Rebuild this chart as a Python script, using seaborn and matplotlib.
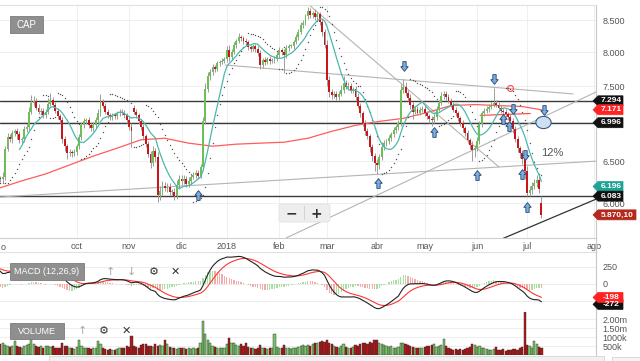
import numpy as np
import pandas as pd
import matplotlib
matplotlib.use("Agg")
import matplotlib.pyplot as plt
import seaborn as sns
from matplotlib.path import Path
from matplotlib.patches import Polygon, Rectangle, FancyBboxPatch
from matplotlib.lines import Line2D
from matplotlib.ticker import FixedLocator, NullLocator, FixedFormatter

# ---------------- data ----------------
start_date = "2017-08-16"
end_date = "2018-07-10"
market_holidays = ["2017-12-25", "2017-12-26", "2018-01-01",
                   "2018-03-30", "2018-04-02", "2018-05-01"]

closes = [
    6293, 6287, 6310, 6653, 6805, 6779, 6856, 6882, 6843, 6766,
    6779, 6908, 6935, 7147, 7270, 7297, 7201, 7147, 7160, 7093,
    7147, 7256, 7311, 7242, 7160, 7080, 7027, 6779, 6690, 6603,
    6615, 6603, 6615, 6690, 6805, 6961, 7014, 7027, 6961, 6921,
    6961, 7027, 7120, 7283, 7228, 7147, 7093, 7067, 7093, 7080,
    7120, 7147, 7133, 7093, 7027, 6935, 6880, 7147, 7093, 7014,
    6935, 6818, 6716, 6590, 6479, 6628, 6553, 6100, 6146, 6204,
    6181, 6193, 6134, 6134, 6088, 6216, 6287, 6263, 6287, 6228,
    6263, 6310, 6334, 6358, 6322, 6430, 7014, 7464, 7642, 7708,
    7776, 7750, 7834, 7860, 7872, 7900, 8035, 7930, 8005, 8110,
    8170, 8235, 8220, 8170, 8155, 8080, 8050, 8095, 8050, 7990,
    7810, 7884, 7855, 7900, 7870, 7884, 7900, 7959, 8035, 8005,
    7959, 8065, 8095, 8095, 8155, 8235, 8315, 8420, 8455, 8570,
    8650, 8585, 8620, 8555, 8600, 8470, 8310, 8110, 7592, 7420,
    7380, 7395, 7350, 7395, 7450, 7550, 7493, 7507, 7437, 7465,
    7350, 7228, 7120, 6987, 6882, 6818, 6678, 6565, 6479, 6455,
    6553, 6678, 6729, 6754, 6792, 6843, 6895, 6935, 6987, 7450,
    7493, 7408, 7338, 7242, 7147, 7187, 7133, 7174, 7187, 7120,
    7080, 7040, 7027, 7067, 7187, 7270, 7365, 7395, 7350, 7297,
    7242, 7174, 7120, 7054, 6987, 6921, 6856, 6766, 6703, 6640,
    6665, 6754, 6974, 7120, 7160, 7187, 7215, 7242, 7270, 7242,
    7201, 7160, 7147, 7107, 7067, 7014, 6908, 6779, 6665, 6603,
    6528, 6382, 6122, 6157, 6204, 6240, 6275, 6169, 5870,
]
first_open = 6330
open_gaps = {57: 7200, 228: 6000}

hi_wick = [
    40, 30, 60, 40, 50, 40, 40, 30, 50, 40,
    30, 40, 40, 60, 110, 60, 40, 50, 30, 40,
    40, 80, 90, 40, 30, 40, 30, 50, 40, 30,
    40, 30, 40, 30, 40, 50, 40, 30, 40, 30,
    40, 50, 60, 110, 40, 30, 40, 30, 40, 30,
    40, 40, 30, 40, 30, 40, 60, 40, 30, 40,
    30, 40, 30, 40, 40, 60, 40, 60, 50, 60,
    40, 50, 40, 30, 40, 60, 50, 40, 40, 30,
    40, 30, 40, 30, 40, 40, 60, 80, 60, 40,
    50, 40, 40, 30, 40, 30, 60, 80, 40, 50,
    40, 60, 40, 30, 50, 40, 30, 40, 30, 40,
    50, 30, 40, 30, 40, 30, 40, 50, 40, 30,
    40, 40, 30, 40, 30, 50, 40, 50, 60, 40,
    70, 50, 40, 60, 40, 40, 50, 60, 80, 60,
    40, 30, 40, 30, 60, 90, 40, 50, 40, 30,
    40, 50, 40, 30, 40, 50, 30, 40, 40, 50,
    40, 60, 40, 30, 40, 30, 40, 30, 40, 80,
    110, 60, 40, 50, 40, 30, 40, 40, 30, 40,
    40, 30, 40, 50, 40, 40, 50, 40, 30, 40,
    30, 40, 30, 40, 30, 40, 30, 40, 30, 50,
    40, 60, 40, 30, 40, 40, 30, 40, 210, 40,
    30, 40, 30, 40, 30, 40, 50, 40, 40, 30,
    40, 60, 60, 40, 50, 40, 60, 40, 80,
]
lo_wick = [
    60, 40, 50, 40, 30, 40, 50, 40, 60, 40,
    40, 30, 40, 30, 40, 50, 30, 40, 40, 30,
    40, 30, 40, 40, 40, 30, 40, 50, 60, 70,
    40, 50, 40, 30, 40, 30, 40, 30, 40, 40,
    30, 40, 30, 40, 40, 30, 40, 30, 40, 30,
    40, 30, 40, 30, 40, 40, 200, 40, 30, 40,
    40, 50, 40, 40, 60, 40, 60, 80, 60, 50,
    40, 50, 40, 40, 50, 40, 40, 50, 40, 40,
    40, 40, 30, 40, 40, 30, 40, 40, 40, 50,
    40, 50, 30, 40, 30, 40, 40, 60, 40, 30,
    40, 30, 40, 40, 30, 40, 40, 30, 40, 40,
    60, 40, 40, 30, 40, 30, 40, 30, 40, 50,
    270, 40, 40, 30, 40, 30, 40, 30, 40, 30,
    40, 50, 40, 40, 60, 50, 60, 50, 90, 70,
    60, 50, 40, 50, 40, 40, 40, 50, 40, 40,
    40, 40, 50, 40, 50, 40, 60, 60, 100, 110,
    50, 40, 40, 40, 30, 40, 30, 40, 40, 40,
    40, 40, 50, 60, 100, 40, 40, 30, 40, 40,
    40, 50, 70, 40, 40, 30, 40, 40, 40, 30,
    40, 30, 40, 40, 40, 50, 40, 40, 50, 130,
    80, 40, 40, 30, 40, 30, 40, 30, 40, 30,
    40, 30, 40, 40, 30, 40, 50, 40, 50, 60,
    60, 100, 40, 40, 50, 40, 50, 50, 30,
]
volume_k = [
    650, 600, 700, 550, 500, 450, 480, 760, 500, 450,
    420, 480, 550, 600, 870, 620, 500, 450, 480, 420,
    500, 520, 450, 480, 400, 420, 380, 690, 520, 480,
    420, 380, 360, 450, 820, 500, 400, 420, 380, 360,
    400, 420, 760, 600, 420, 350, 300, 320, 280, 300,
    350, 400, 380, 420, 500, 450, 1050, 500, 450, 420,
    550, 620, 600, 500, 520, 450, 600, 500, 550, 500,
    820, 600, 450, 400, 380, 350, 420, 380, 400, 350,
    380, 330, 400, 350, 420, 700, 1900, 1150, 850, 650,
    500, 450, 420, 400, 380, 420, 600, 950, 700, 650,
    550, 500, 620, 480, 700, 450, 380, 400, 350, 380,
    550, 420, 400, 350, 380, 420, 1150, 450, 400, 380,
    550, 380, 400, 350, 420, 380, 450, 500, 550, 480,
    550, 500, 600, 700, 650, 750, 800, 720, 850, 700,
    600, 500, 450, 420, 480, 600, 450, 400, 420, 450,
    550, 480, 600, 650, 700, 600, 740, 650, 820, 850,
    700, 600, 550, 500, 450, 480, 420, 400, 450, 650,
    700, 600, 550, 500, 450, 420, 400, 380, 420, 450,
    500, 480, 550, 600, 450, 500, 550, 900, 500, 380,
    350, 300, 330, 280, 350, 300, 320, 400, 450, 640,
    550, 450, 500, 420, 380, 330, 300, 280, 350, 450,
    300, 280, 320, 250, 300, 280, 320, 350, 300, 420,
    450, 2600, 550, 480, 420, 760, 620, 450, 400,
]

# long moving average (red), read every 10 sessions
red_ma_idx = [0, 10, 20, 30, 40, 50, 60, 70, 80, 90, 100, 110, 120,
              130, 140, 150, 160, 170, 180, 190, 200, 210, 220, 228]
red_ma_val = [6172, 6263, 6346, 6455, 6565, 6665, 6773, 6792, 6729, 6690,
              6716, 6729, 6741, 6792, 6882, 6961, 7014, 7054, 7133, 7228,
              7242, 7228, 7215, 7171]
short_ma_window = 10
macd_seed = {"ema12": 6600, "ema26": 6335, "signal": 235}

month_labels = ["oct", "nov", "dic", "2018", "feb", "mar", "abr", "may", "jun", "jul", "ago"]
month_starts = ["2017-10-01", "2017-11-01", "2017-12-01", "2018-01-01", "2018-02-01",
                "2018-03-01", "2018-04-01", "2018-05-01", "2018-06-01", "2018-07-01",
                "2018-08-01"]
left_partial_label = "o"

price_ticks = [6000, 6500, 7000, 7500, 8000, 8500]
price_tick_labels = ["6.000", "6.500", "", "7.500", "8.000", "8.500"]
macd_ticks = [250, 0]
macd_grid = [250, 0, -250]
vol_ticks = [500000, 1000000, 1500000, 2000000]
vol_tick_labels = ["500k", "1000k", "1.50m", "2.00m"]

h_levels = [7294, 6996, 6083]
trend_gray = [((0.84, 6073), (251.8, 6504)),
              ((95.3, 7809), (241.3, 7390)),
              ((131.0, 8738), (210.2, 6430)),
              ((120.9, 5617), (251.8, 7431))]
trend_black = [((211.5, 5608), (251.4, 6054))]
trend_red = [((202.3, 7094), (223.3, 7120))]
arrows_down = [(170.4, 7794), (208.1, 7603), (216.1, 7181), (221.2, 6578), (229.1, 7167)]
arrows_up = [(83.9, 6096), (159.5, 6237), (183.0, 6874), (201.0, 6333),
             (211.9, 7046), (214.4, 6952), (219.9, 6345), (222.0, 5958)]
circle_mark = (214.9, 7478)
ellipse_mark = (228.7, 7006)
pct_label = (232.5, 6610, "12%")

price_flags = [(7294, "7.294", "#111111"), (7171, "7.171", "#ff2424"),
               (6996, "6.996", "#111111"), (6196, "6.196", "#1fa396"),
               (6083, "6.083", "#111111"), (5870.10, "5.870,10", "#b5291d")]
macd_flags = [(-300, "-272", "#111111"), (-198, "-198", "#ff2020")]

# ---------------- style ----------------
sns.set_style("white")
plt.rcParams["font.family"] = ["Liberation Sans", "DejaVu Sans"]

W, H = 640, 361
fig = plt.figure(figsize=(6.4, 3.61), dpi=100, facecolor="white")

def fx(px):
    return px / W

def fy(py):
    return 1 - py / H

AXR = 596
ax1 = fig.add_axes([0, fy(238), fx(AXR), (238 - 5) / H])
ax2 = fig.add_axes([0, fy(312), fx(AXR), (312 - 252) / H], sharex=ax1)
ax3 = fig.add_axes([0, fy(355), fx(AXR), (355 - 312) / H], sharex=ax1)

# ---------------- derived series ----------------
dates = pd.bdate_range(start_date, end_date)
dates = dates[~dates.isin(pd.to_datetime(market_holidays))]
n = len(closes)
idx = np.arange(n)
c = np.array(closes, float)
o = np.r_[first_open, c[:-1]]
for k, v in open_gaps.items():
    o[k] = v
hi = np.maximum(o, c) + np.array(hi_wick)
lo = np.minimum(o, c) - np.array(lo_wick)
up = c >= o

short_ma = pd.Series(c).rolling(short_ma_window).mean().to_numpy()

def ema(values, span, seed):
    s = pd.Series([seed] + list(values))
    return s.ewm(span=span, adjust=False).mean().to_numpy()[1:]

macd = ema(c, 12, macd_seed["ema12"]) - ema(c, 26, macd_seed["ema26"])
signal = ema(macd, 9, macd_seed["signal"])
hist = macd - signal

def psar(high, low, step=0.02, amax=0.2):
    out = np.zeros(len(high))
    bull = True
    af = step
    ep = high[0]
    out[0] = low[0]
    for i in range(1, len(high)):
        prev = out[i - 1]
        s = prev + af * (ep - prev)
        if bull:
            s = min(s, low[i - 1], low[max(i - 2, 0)])
            if low[i] < s:
                bull = False
                s = ep
                ep = low[i]
                af = step
            elif high[i] > ep:
                ep = high[i]
                af = min(af + step, amax)
        else:
            s = max(s, high[i - 1], high[max(i - 2, 0)])
            if high[i] > s:
                bull = True
                s = ep
                ep = high[i]
                af = step
            elif low[i] < ep:
                ep = low[i]
                af = min(af + step, amax)
        out[i] = s
    return out

sar = psar(hi, lo)

# month tick positions (sessions index; future part in calendar days)
tick_pos = []
for m in pd.to_datetime(month_starts):
    if m <= dates[-1]:
        tick_pos.append(int(np.searchsorted(dates, m)))
    else:
        tick_pos.append(n - 1 + (m - dates[-1]).days)

# ---------------- price panel ----------------
ax1.set_yscale("log")
for y in h_levels:
    ax1.axhline(y, color="#3a3a3a", lw=1.0, zorder=2)
for (x0, y0), (x1, y1) in trend_gray:
    ax1.plot([x0, x1], [y0, y1], color="#b4b4b4", lw=0.8, zorder=2)
for (x0, y0), (x1, y1) in trend_black:
    ax1.plot([x0, x1], [y0, y1], color="#333333", lw=0.9, zorder=2)
for (x0, y0), (x1, y1) in trend_red:
    ax1.plot([x0, x1], [y0, y1], color="#ff5050", lw=0.9, zorder=2)

sns.lineplot(x=red_ma_idx, y=red_ma_val, ax=ax1, color="#ff5c5c", lw=0.9, zorder=3)
sns.scatterplot(x=idx, y=sar, ax=ax1, s=1.0, color="#555555", linewidth=0, zorder=3)

ax1.vlines(idx, lo, hi, color="#9c9c9c", lw=0.7, zorder=4)
body_b = np.minimum(o, c)
body_h = np.maximum(np.abs(c - o), c * 0.0016)
ax1.bar(idx[up], body_h[up], bottom=body_b[up], width=0.8, color="#6cbf55", lw=0, zorder=5)
ax1.bar(idx[~up], body_h[~up], bottom=body_b[~up], width=0.8, color="#c8161a", lw=0, zorder=5)

ma_mask = ~np.isnan(short_ma)
sns.lineplot(x=idx[ma_mask], y=short_ma[ma_mask], ax=ax1, color="#4db8ad", lw=0.9, zorder=6)

# markers
up_verts = [(-0.17, -0.5), (0.17, -0.5), (0.17, 0.02), (0.38, 0.02), (0.0, 0.5),
            (-0.38, 0.02), (-0.17, 0.02), (-0.17, -0.5)]
up_path = Path(up_verts, [Path.MOVETO] + [Path.LINETO] * 6 + [Path.CLOSEPOLY])
dn_path = Path([(x, -y) for x, y in up_verts], up_path.codes)
ax1.plot([a for a, b in arrows_up], [b for a, b in arrows_up], ls="none", marker=up_path,
         ms=7, mfc="#7aaee6", mec="#25446c", mew=0.6, zorder=8)
ax1.plot([a for a, b in arrows_down], [b for a, b in arrows_down], ls="none", marker=dn_path,
         ms=7, mfc="#7aaee6", mec="#25446c", mew=0.6, zorder=8)
circ = Path.unit_circle()
ell_path = Path(circ.vertices * np.array([0.5, 0.4]), circ.codes)
ax1.plot([ellipse_mark[0]], [ellipse_mark[1]], ls="none", marker=ell_path, ms=11,
         mfc="#cddff3", mec="#3b5b86", mew=0.8, zorder=8)
ax1.plot([circle_mark[0]], [circle_mark[1]], ls="none", marker="o", ms=4.2,
         mfc="none", mec="#ff4a4a", mew=0.8, zorder=8)
ax1.text(pct_label[0], pct_label[1], pct_label[2], fontsize=8, color="#555555",
         ha="center", va="center", zorder=8)

ax1.set_xlim(0.84, 250.9)
ax1.set_ylim(5617, 8754)
ax1.yaxis.set_major_locator(FixedLocator(price_ticks))
ax1.yaxis.set_minor_locator(NullLocator())
ax1.yaxis.set_major_formatter(FixedFormatter(price_tick_labels))
ax1.yaxis.tick_right()
ax1.tick_params(axis="y", length=0, pad=4.5, labelsize=6.5, labelcolor="#555555")
ax1.xaxis.set_major_locator(FixedLocator(tick_pos))
ax1.xaxis.set_major_formatter(FixedFormatter(month_labels))
ax1.xaxis.set_minor_locator(NullLocator())
ax1.tick_params(axis="x", length=0, pad=3, labelsize=6.5, labelcolor="#555555")
ax1.grid(True, axis="both", color="#ececec", lw=0.6, zorder=0)
ax1.set_xlabel("")
ax1.set_ylabel("")

# ---------------- MACD panel ----------------
hcol = ["#a6dfa0" if (i == 0 or hist[i] >= hist[i - 1]) else "#f5aaaa" for i in range(n)]
ax2.bar(idx, hist, width=0.55, color=hcol, lw=0, zorder=2)
sns.lineplot(x=idx, y=macd, ax=ax2, color="#222222", lw=0.8, zorder=4)
sns.lineplot(x=idx, y=signal, ax=ax2, color="#ff3535", lw=0.8, zorder=3)
ax2.set_ylim(-411.8, 470.6)
for g in macd_grid:
    ax2.axhline(g, color="#e8e8e8", lw=0.6, zorder=1)
ax2.yaxis.set_major_locator(FixedLocator(macd_ticks))
ax2.yaxis.set_major_formatter(FixedFormatter([str(v) for v in macd_ticks]))
ax2.yaxis.tick_right()
ax2.tick_params(axis="y", length=0, pad=4.5, labelsize=6.5, labelcolor="#555555")
ax2.tick_params(axis="x", length=0, labelbottom=False)
ax2.grid(False)
ax2.set_xlabel("")
ax2.set_ylabel("")

# ---------------- volume panel ----------------
vol = np.array(volume_k, float) * 1000
vcol = np.where(up, "#7cc46a", "#b3171a")
ax3.bar(idx, vol, width=0.92, color=vcol, edgecolor="#2b2b2b", lw=0.3, zorder=3)
ax3.set_ylim(0, 2.41e6)
ax3.yaxis.set_major_locator(FixedLocator(vol_ticks))
ax3.yaxis.set_major_formatter(FixedFormatter(vol_tick_labels))
ax3.yaxis.tick_right()
ax3.tick_params(axis="y", length=0, pad=4.5, labelsize=6.5, labelcolor="#555555")
ax3.tick_params(axis="x", length=0, labelbottom=False)
ax3.grid(True, axis="y", color="#ececec", lw=0.6, zorder=0)
ax3.grid(False, axis="x")
ax3.set_xlabel("")
ax3.set_ylabel("")
ax1.set_xlim(0.84, 250.9)

for ax in (ax1, ax2, ax3):
    ax.set_facecolor("white")
    ax.spines["left"].set_visible(False)
    ax.spines["right"].set_color("#c8c8c8")
ax1.spines["top"].set_color("#e0e0e0")
ax1.spines["bottom"].set_color("#cfcfcf")
ax2.spines["top"].set_color("#e0e0e0")
ax2.spines["bottom"].set_color("#dcdcdc")
ax3.spines["top"].set_visible(False)
ax3.spines["bottom"].set_visible(False)
for sp in ("top", "bottom", "right"):
    for ax in (ax1, ax2, ax3):
        ax.spines[sp].set_linewidth(0.8)

# right axis line through the gaps
fig.add_artist(Line2D([fx(AXR), fx(AXR)], [fy(238), fy(252)], transform=fig.transFigure,
                      color="#c8c8c8", lw=0.8))

# ---------------- overlays ----------------
def label_box(x0, y0, x1, y1, text, fs):
    fig.add_artist(Rectangle((fx(x0), fy(y1)), fx(x1 - x0), (y1 - y0) / H,
                             transform=fig.transFigure, fc="#8f8f8f", ec="#7b7b7b",
                             lw=0.6, zorder=20))
    fig.text(fx((x0 + x1) / 2), fy((y0 + y1) / 2), text, color="white", fontsize=fs,
             ha="center", va="center", zorder=21)

label_box(10, 16, 43, 33, "CAP", 7)
label_box(10, 263, 84, 280, "MACD (12,26,9)", 6.5)
label_box(10, 323, 64, 339, "VOLUME", 6.5)

icon_font = ["DejaVu Sans"]
for x, ch, col in [(110, "↑", "#a8a8a8"), (131, "↓", "#a8a8a8"), (154, "⚙", "#333333"), (175, "✕", "#333333")]:
    fig.text(fx(x), fy(272), ch, fontsize=8, color=col, ha="center", va="center",
             family=icon_font, zorder=21)
for x, ch, col in [(82, "↑", "#a8a8a8"), (104, "⚙", "#333333"), (126, "✕", "#333333")]:
    fig.text(fx(x), fy(331), ch, fontsize=8, color=col, ha="center", va="center",
             family=icon_font, zorder=21)

# zoom buttons
fig.add_artist(FancyBboxPatch((fx(279), fy(222)), fx(51), 18 / H,
                              boxstyle="round,pad=0,rounding_size=0.006",
                              transform=fig.transFigure, fc="#eeeeee", ec="#e2e2e2",
                              lw=0.6, zorder=20))
fig.add_artist(Line2D([fx(304), fx(304)], [fy(219), fy(206)], transform=fig.transFigure,
                      color="#d2d2d2", lw=0.7, zorder=21))
fig.text(fx(291), fy(213.5), "−", fontsize=10, fontweight="bold", color="#333333",
         ha="center", va="center", family=icon_font, zorder=21)
fig.text(fx(316), fy(213.5), "+", fontsize=10, fontweight="bold", color="#333333",
         ha="center", va="center", family=icon_font, zorder=21)

# partial left month label
fig.text(fx(0.5), fy(247), left_partial_label, fontsize=6.5, color="#555555",
         ha="left", va="center")

# navigator strip
fig.add_artist(Rectangle((fx(49), 0), fx(555), 5 / H, transform=fig.transFigure,
                         fc="#f1f1f1", ec="#d4d4d4", lw=0.6, zorder=20))
fig.add_artist(Rectangle((fx(612), 0), fx(30), 4 / H, transform=fig.transFigure,
                         fc="#f4f4f4", ec="#d4d4d4", lw=0.6, zorder=20))

# value flags
def flag(ax, value, text, color, right=623):
    disp = ax.transData.transform((ax.get_xlim()[0], value))
    yf = fig.transFigure.inverted().transform(disp)[1]
    hh = 5 / H
    pts = [(fx(593), yf), (fx(598), yf + hh), (fx(right), yf + hh),
           (fx(right), yf - hh), (fx(598), yf - hh)]
    fig.add_artist(Polygon(pts, closed=True, transform=fig.transFigure, fc=color,
                           ec=color, lw=0.5, zorder=30))
    fig.text(fx((598 + right) / 2 + 0.5), yf, text, color="white", fontsize=6,
             fontweight="bold", ha="center", va="center", zorder=31)

for v, t, col in price_flags:
    flag(ax1, v, t, col, right=636 if len(t) > 5 else 623)
for v, t, col in macd_flags:
    flag(ax2, v, t, col)

fig.savefig("out.png", dpi=100, facecolor="white")
